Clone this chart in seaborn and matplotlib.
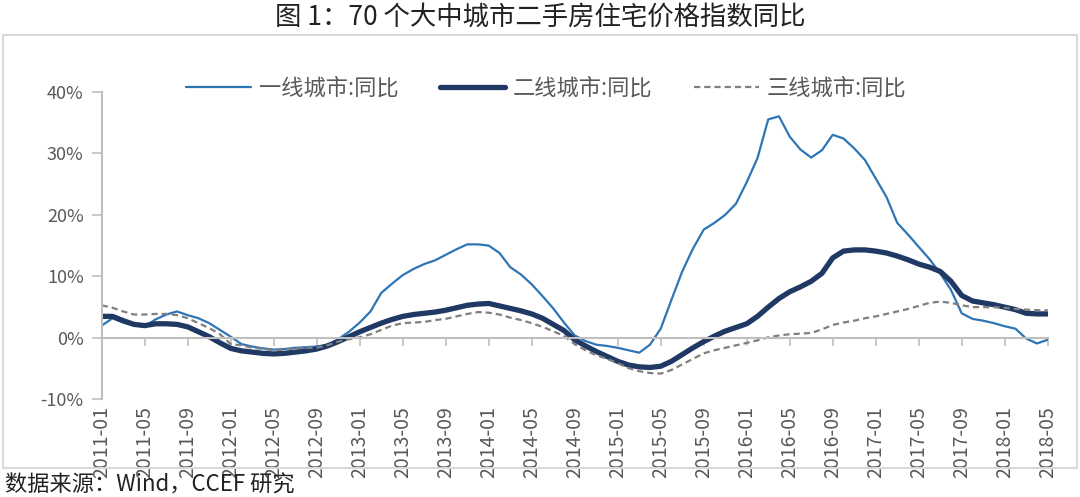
import numpy as np
import pandas as pd
import matplotlib
matplotlib.use('Agg')
import matplotlib.pyplot as plt
import seaborn as sns
from matplotlib.patches import Rectangle

sns.set_style('white')
plt.rcParams['font.family'] = ['Noto Sans CJK SC', 'DejaVu Sans']
plt.rcParams['axes.unicode_minus'] = False

months = pd.date_range('2011-01-01', periods=89, freq='MS').strftime('%Y-%m').tolist()

tier1 = [2.0, 3.2, 2.5, 2.0, 1.9, 3.0, 3.8, 4.3, 3.7, 3.2,
         2.4, 1.3, 0.2, -1.0, -1.4, -1.7, -1.9, -1.8, -1.6, -1.5,
         -1.4, -1.1, -0.2, 1.0, 2.5, 4.3, 7.3, 8.8, 10.2, 11.2,
         12.0, 12.6, 13.5, 14.4, 15.2, 15.2, 15.0, 13.8, 11.5, 10.3,
         8.7, 6.8, 4.8, 2.5, 0.4, -0.5, -1.1, -1.3, -1.6, -2.0,
         -2.4, -1.1, 1.5, 6.2, 10.8, 14.5, 17.6, 18.7, 20.0, 21.8,
         25.3, 29.2, 35.5, 36.0, 32.7, 30.6, 29.3, 30.5, 33.0, 32.4,
         30.8, 28.9, 25.9, 22.9, 18.7, 16.8, 14.8, 12.8, 10.5, 7.8,
         4.0, 3.1, 2.8, 2.4, 1.9, 1.5, -0.1, -0.9, -0.3]

tier2 = [3.5, 3.5, 2.8, 2.2, 2.0, 2.3, 2.3, 2.2, 1.8, 1.0,
         0.2, -0.8, -1.7, -2.1, -2.3, -2.5, -2.6, -2.5, -2.3, -2.1,
         -1.8, -1.3, -0.6, 0.2, 1.0, 1.7, 2.4, 3.0, 3.5, 3.8,
         4.0, 4.2, 4.5, 4.9, 5.3, 5.5, 5.6, 5.2, 4.8, 4.4,
         3.9, 3.2, 2.2, 1.2, -0.3, -1.3, -2.2, -3.0, -3.8, -4.4,
         -4.7, -4.8, -4.6, -3.8, -2.7, -1.6, -0.6, 0.3, 1.1, 1.7,
         2.3, 3.5, 5.0, 6.4, 7.5, 8.3, 9.2, 10.5, 13.0, 14.1,
         14.3, 14.3, 14.1, 13.8, 13.3, 12.7, 12.0, 11.5, 10.8, 9.2,
         6.9, 6.0, 5.7, 5.4, 5.0, 4.6, 4.0, 3.9, 3.9]

tier3 = [5.3, 4.9, 4.3, 3.8, 3.8, 3.9, 3.9, 3.7, 3.2, 2.4,
         1.6, 0.6, -1.0, -1.2, -1.6, -1.8, -2.0, -1.9, -1.7, -1.6,
         -1.6, -1.2, -0.6, -0.2, 0.1, 0.6, 1.3, 2.0, 2.4, 2.5,
         2.6, 2.9, 3.1, 3.5, 3.9, 4.2, 4.1, 3.8, 3.3, 2.9,
         2.4, 1.8, 1.1, 0.3, -1.0, -2.0, -2.8, -3.4, -4.1, -4.9,
         -5.4, -5.7, -5.8, -5.2, -4.3, -3.4, -2.5, -2.0, -1.6, -1.2,
         -0.8, -0.4, 0.1, 0.4, 0.6, 0.7, 0.8, 1.4, 2.1, 2.5,
         2.8, 3.2, 3.5, 3.9, 4.3, 4.7, 5.2, 5.7, 5.9, 5.7,
         5.3, 5.0, 5.0, 5.0, 4.9, 4.7, 4.6, 4.5, 4.5]

names = ['一线城市:同比', '二线城市:同比', '三线城市:同比']
colors = ['#2E75B6', '#1F3864', '#7F7F7F']

df = pd.DataFrame({'idx': range(len(months)), 'month': months,
                   names[0]: tier1, names[1]: tier2, names[2]: tier3})

fig = plt.figure(figsize=(10.8, 4.97), dpi=100)
ax = fig.add_axes([0.0942, 0.1962, 0.8759, 0.6193])

sns.lineplot(data=df, x='idx', y=names[0], color=colors[0], lw=1.6, label=names[0], ax=ax)
sns.lineplot(data=df, x='idx', y=names[1], color=colors[1], lw=3.8, label=names[1], ax=ax)
sns.lineplot(data=df, x='idx', y=names[2], color=colors[2], lw=1.6, label=names[2], ax=ax)
ax.lines[2].set_linestyle((0, (2.8, 1.8)))

ax.set_xlim(0, len(months) - 1)
ax.set_ylim(-10, 40)
ax.set_xlabel('')
ax.set_ylabel('')

axis_col = '#BFBFBF'
text_col = '#595959'

# y axis
ax.set_yticks([-10, 0, 10, 20, 30, 40])
ax.set_yticklabels(['-10%', '0%', '10%', '20%', '30%', '40%'])
ax.tick_params(axis='y', direction='out', length=7, width=1.2, color=axis_col,
               labelsize=13, labelcolor=text_col, pad=6, left=True)

# x axis line at zero, labels at the bottom
ax.spines['bottom'].set_position(('data', 0))
ax.set_xticks(range(0, len(months), 4))
ax.tick_params(axis='x', direction='out', length=6, width=1.2, color=axis_col,
               labelbottom=False, bottom=True)
sec = ax.secondary_xaxis('bottom')
sec.set_xticks(range(0, len(months), 4))
sec.set_xticklabels(months[::4], rotation=90)
sec.tick_params(length=0, labelsize=14, labelcolor=text_col, pad=5)
sec.spines['bottom'].set_visible(False)

for s in ['top', 'right']:
    ax.spines[s].set_visible(False)
for s in ['left', 'bottom']:
    ax.spines[s].set_color(axis_col)
    ax.spines[s].set_linewidth(1.5)

leg = ax.legend(loc='center', bbox_to_anchor=(0.47, 1.012), ncol=3, frameon=False,
                fontsize=16, handlelength=2.9, handletextpad=0.35, columnspacing=1.9)
for t in leg.get_texts():
    t.set_color(text_col)

fig.text(0.5, 0.965, '图 1：70 个大中城市二手房住宅价格指数同比', ha='center', va='center',
         fontsize=19, color='#222222')
fig.text(0.005, 0.024, '数据来源：Wind，CCEF 研究', ha='left', va='center',
         fontsize=16, color='#222222')

fig.patches.append(Rectangle((0.0028, 0.0584), 0.9944, 0.8712, transform=fig.transFigure,
                             fill=False, edgecolor='#D9D9D9', lw=1.5))

fig.savefig('out.png', dpi=100)
